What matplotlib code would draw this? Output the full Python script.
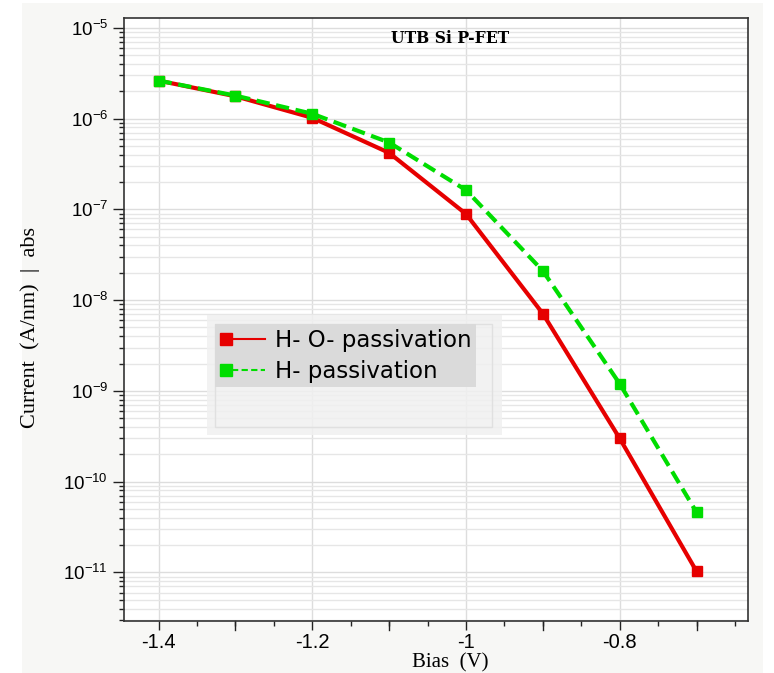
import matplotlib
matplotlib.use("Agg")
import matplotlib.pyplot as plt
from matplotlib.patches import Rectangle
from matplotlib.lines import Line2D
from matplotlib.legend_handler import HandlerBase
from matplotlib.ticker import FixedLocator, FixedFormatter, MultipleLocator, LogLocator, NullFormatter

plt.rcParams["mathtext.fontset"] = "custom"
plt.rcParams["mathtext.rm"] = "Liberation Sans"
plt.rcParams["mathtext.it"] = "Liberation Sans:italic"
plt.rcParams["mathtext.bf"] = "Liberation Sans:bold"

bias = [-1.4, -1.3, -1.2, -1.1, -1.0, -0.9, -0.8, -0.7]
current_HO = [2.62e-6, 1.76e-6, 1.02e-6, 4.19e-7, 8.9e-8, 7.1e-9, 3.0e-10, 1.03e-11]
current_H = [2.62e-6, 1.79e-6, 1.13e-6, 5.45e-7, 1.63e-7, 2.1e-8, 1.2e-9, 4.6e-11]
xtick_vals = [-1.4, -1.2, -1.0, -0.8]
xtick_labels = ["-1.4", "-1.2", "-1", "-0.8"]
xtick_mid = [-1.3, -1.1, -0.9, -0.7]
ytick_exps = [-11, -10, -9, -8, -7, -6, -5]
series_labels = ["H- O- passivation", "H- passivation"]

W, H = 774, 673
fig = plt.figure(figsize=(W / 100, H / 100), dpi=100, facecolor="white")
fig.patches.append(Rectangle((22 / W, 0), (763 - 22) / W, (H - 3) / H,
                             transform=fig.transFigure, facecolor="#f7f7f5",
                             edgecolor="none", zorder=-10))

ax = fig.add_axes([124 / W, (H - 621) / H, (748 - 124) / W, (621 - 18) / H])
ax.set_facecolor("white")

red = "#e60000"
green = "#00dd00"
ax.plot(bias, current_HO, color=red, lw=3, marker="s", ms=7, zorder=3)
ax.plot(bias, current_H, color=green, lw=3, ls=(0, (3.2, 1.6)), marker="s", ms=7, zorder=4)

ax.set_yscale("log")
ax.set_xlim(-1.445, -0.633)
ax.set_ylim(10 ** -11.535, 10 ** -4.892)

ax.xaxis.set_major_locator(FixedLocator(xtick_vals))
ax.xaxis.set_major_formatter(FixedFormatter(xtick_labels))
ax.xaxis.set_minor_locator(MultipleLocator(0.05))
ax.yaxis.set_major_locator(FixedLocator([10.0 ** e for e in ytick_exps]))
ax.yaxis.set_major_formatter(FixedFormatter([r"$10^{%d}$" % e for e in ytick_exps]))
ax.yaxis.set_minor_locator(LogLocator(base=10, subs=range(2, 10), numticks=100))
ax.yaxis.set_minor_formatter(NullFormatter())

ax.grid(True, which="major", axis="both", color="#dddddd", lw=1)
ax.grid(True, which="minor", axis="y", color="#e6e6e6", lw=1)
ax.set_axisbelow(True)

ax.tick_params(axis="y", which="major", direction="out", length=8, width=1, pad=3.5,
               labelsize=13.5, color="#222222")
ax.tick_params(axis="y", which="minor", direction="out", length=3.6, width=1, color="#222222")
ax.tick_params(axis="x", which="major", direction="out", length=6.5, width=1, pad=2,
               labelsize=14.5, color="#222222")
ax.tick_params(axis="x", which="minor", direction="out", length=3.6, width=1, color="#222222")
# longer unlabelled marks at the 0.1 midpoints
for v in xtick_mid:
    ax.plot([v, v], [0, -9 / 603], transform=ax.get_xaxis_transform(),
            color="#222222", lw=1, clip_on=False, zorder=1)
for lbl in ax.get_yticklabels() + ax.get_xticklabels():
    lbl.set_family("Liberation Sans")

for s in ax.spines.values():
    s.set_color("#333333")
    s.set_linewidth(1.2)

fig.text(30 / W, 1 - 327 / H, "Current  (A/nm)  |  abs", rotation=90, ha="center", va="center",
         family="Liberation Serif", fontsize=16)
fig.text(450 / W, 1 - 663 / H, "Bias  (V)", ha="center", va="center",
         family="Liberation Serif", fontsize=15)

ax.text((450 - 124) / 624, (621 - 39) / 603, "UTB Si P-FET", transform=ax.transAxes,
        ha="center", va="center", family="DejaVu Serif", fontweight="bold",
        fontsize=12.5, fontstretch="condensed")

# outer light legend panel
ax.add_patch(Rectangle(((207 - 124) / 624, (621 - 435) / 603), (502 - 207) / 624, (435 - 315) / 603,
                       transform=ax.transAxes, facecolor="#f0f0f0", edgecolor="none",
                       alpha=0.85, zorder=5))
ax.add_patch(Rectangle(((215 - 124) / 624, (621 - 427) / 603), (492 - 215) / 624, (427 - 324) / 603,
                       transform=ax.transAxes, facecolor="none", edgecolor="#e0e0e0",
                       lw=1, zorder=5))


class MarkerLineHandler(HandlerBase):
    def create_artists(self, legend, orig_handle, xdescent, ydescent, width, height,
                       fontsize, trans):
        ms = 8.6
        y = height / 2 - ydescent
        x0 = -xdescent
        mk = Line2D([x0 + ms / 2], [y], marker="s", ms=ms, ls="none",
                    color=orig_handle.get_color(), transform=trans)
        ln = Line2D([x0 + ms, x0 + width], [y, y], color=orig_handle.get_color(),
                    lw=1.5, transform=trans)
        if orig_handle.get_linestyle() != "-":
            ln.set_dashes((3, 1.6))
        return [mk, ln]


h1 = Line2D([], [], color=red, ls="-")
h2 = Line2D([], [], color=green, ls="--")
leg = ax.legend([h1, h2], series_labels, handler_map={Line2D: MarkerLineHandler()},
                loc="upper left", bbox_to_anchor=((215 - 124) / 624, (621 - 324) / 603),
                fontsize=16.5, frameon=True, facecolor="#dadada", edgecolor="none",
                framealpha=1, fancybox=False, handlelength=1.96, handletextpad=0.44,
                borderpad=0.2, labelspacing=0.35, borderaxespad=0)
leg.set_zorder(6)

fig.savefig("out.png", dpi=100, facecolor=fig.get_facecolor())
